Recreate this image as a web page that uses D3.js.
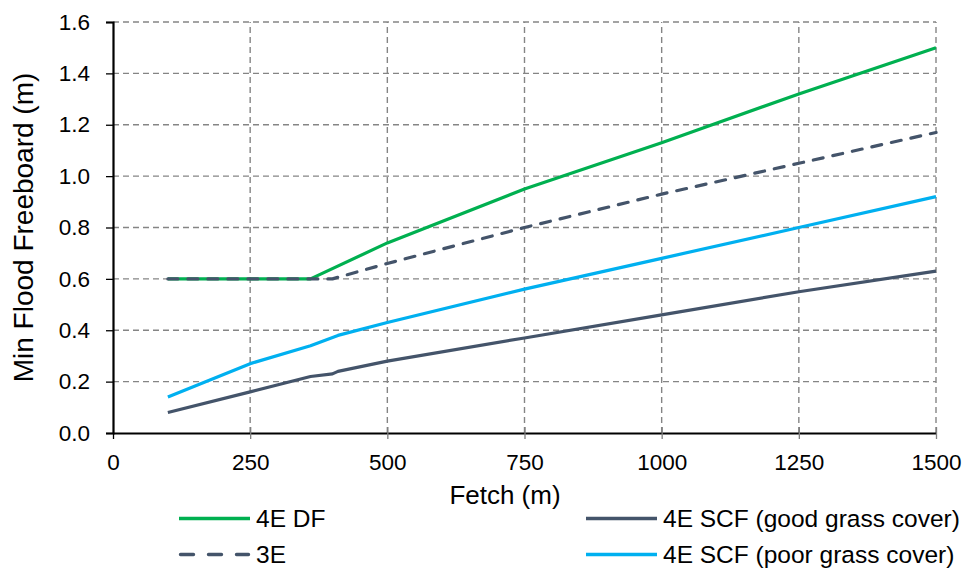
<!DOCTYPE html>
<html>
<head>
<meta charset="utf-8">
<script src="https://cdn.jsdelivr.net/npm/d3@7"></script>
<style>
  html, body { margin: 0; padding: 0; background: #fff; }
  svg { display: block; }
  svg text { font-family: "Liberation Sans", Arial, sans-serif; }
</style>
</head>
<body>
<svg id="chart" width="965" height="569"></svg>
<script>
// Fetch (m) vs minimum flood freeboard (m) for each design condition
const fetchDF = [100, 360, 500, 750, 1000, 1250, 1500];
const freeboardDF = [0.6, 0.6, 0.74, 0.95, 1.13, 1.32, 1.5];

const fetch3E = [100, 400, 500, 750, 1000, 1250, 1500];
const freeboard3E = [0.6, 0.6, 0.66, 0.8, 0.93, 1.05, 1.17];

const fetchGood = [100, 250, 360, 400, 410, 500, 750, 1000, 1250, 1500];
const freeboardGood = [0.08, 0.16, 0.22, 0.23, 0.24, 0.28, 0.37, 0.46, 0.55, 0.63];

const fetchPoor = [100, 250, 360, 410, 500, 750, 1000, 1250, 1500];
const freeboardPoor = [0.14, 0.27, 0.34, 0.38, 0.43, 0.56, 0.68, 0.8, 0.92];

const xTicks = [0, 250, 500, 750, 1000, 1250, 1500];
const yTicks = [0, 0.2, 0.4, 0.6, 0.8, 1.0, 1.2, 1.4, 1.6];

const series = [
  { name: "4E DF", x: fetchDF, y: freeboardDF, color: "#00B050", dash: null },
  { name: "3E", x: fetch3E, y: freeboard3E, color: "#44546A", dash: "10,10" },
  { name: "4E SCF (good grass cover)", x: fetchGood, y: freeboardGood, color: "#44546A", dash: null },
  { name: "4E SCF (poor grass cover)", x: fetchPoor, y: freeboardPoor, color: "#00B0F0", dash: null }
];

const svg = d3.select("#chart");
const m = { left: 113, right: 29, top: 22, bottom: 136 };
const W = 965, H = 569;

const x = d3.scaleLinear().domain([0, 1500]).range([m.left, W - m.right]);
const y = d3.scaleLinear().domain([0, 1.6]).range([H - m.bottom, m.top]);

// grid
const grid = svg.append("g").attr("stroke", "#858585").attr("stroke-width", 1.4)
  .attr("stroke-dasharray", "6,4").attr("fill", "none");
grid.selectAll(".h").data(yTicks.filter(d => d > 0)).join("line")
  .attr("x1", x(0)).attr("x2", x(1500)).attr("y1", d => y(d)).attr("y2", d => y(d));
grid.selectAll(".v").data(xTicks.filter(d => d > 0)).join("line")
  .attr("x1", d => x(d)).attr("x2", d => x(d)).attr("y1", y(0)).attr("y2", y(1.6));

// series lines
const line = d3.line().x(d => x(d[0])).y(d => y(d[1]));
svg.append("g").selectAll("path").data(series).join("path")
  .attr("d", s => line(s.x.map((v, i) => [v, s.y[i]])))
  .attr("fill", "none")
  .attr("stroke", s => s.color)
  .attr("stroke-width", 3.2)
  .attr("stroke-linecap", s => s.dash ? "round" : "butt")
  .attr("stroke-linejoin", "round")
  .attr("stroke-dasharray", s => s.dash);

// axes
const xAxis = svg.append("g").attr("transform", `translate(0,${y(0)})`)
  .call(d3.axisBottom(x).tickValues(xTicks).tickFormat(d3.format("d")).tickSize(0).tickPadding(21));
xAxis.select(".domain").attr("stroke", "#000").attr("stroke-width", 2.2);
xAxis.selectAll(".tick").filter(d => d > 0).append("line")
  .attr("y1", -6).attr("y2", 6).attr("stroke", "#7f7f7f").attr("stroke-width", 1.3);
xAxis.selectAll(".tick").filter(d => d === 0).append("line")
  .attr("y1", 0).attr("y2", 6).attr("stroke", "#000").attr("stroke-width", 1.3);
xAxis.selectAll("text").attr("font-size", 22.5).attr("fill", "#000");

const yAxis = svg.append("g").attr("transform", `translate(${x(0)},0)`)
  .call(d3.axisLeft(y).tickValues(yTicks).tickFormat(d3.format(".1f")).tickSize(7).tickPadding(16));
yAxis.select(".domain").attr("stroke", "#000").attr("stroke-width", 2.2);
yAxis.selectAll(".tick line").attr("stroke", "#000").attr("stroke-width", 1.3);
yAxis.selectAll("text").attr("font-size", 22.5).attr("fill", "#000");

// axis titles
svg.append("text").attr("x", 505).attr("y", 504).attr("text-anchor", "middle")
  .attr("font-size", 26).attr("fill", "#000").text("Fetch (m)");
svg.append("text").attr("transform", `translate(33,${(y(0) + y(1.6)) / 2}) rotate(-90)`)
  .attr("text-anchor", "middle").attr("font-size", 28).attr("fill", "#000")
  .text("Min Flood Freeboard (m)");

// legend
const legendPos = [
  { lx: 179, ly: 518.5 }, { lx: 179, ly: 554.5 }, { lx: 586, ly: 518.5 }, { lx: 586, ly: 554.5 }
];
const lg = svg.append("g").selectAll("g").data(series).join("g")
  .attr("transform", (s, i) => `translate(${legendPos[i].lx},${legendPos[i].ly})`);
lg.append("line")
  .attr("x1", s => s.dash ? 1.5 : 0).attr("x2", s => s.dash ? 69.5 : 71)
  .attr("y1", 0).attr("y2", 0)
  .attr("stroke", s => s.color).attr("stroke-width", 3.4)
  .attr("stroke-linecap", s => s.dash ? "round" : "butt")
  .attr("stroke-dasharray", s => s.dash ? "13,15" : null);
lg.append("text").attr("x", 77).attr("y", 8.5)
  .attr("font-size", 24.5).attr("fill", "#000").text(s => s.name);
</script>
</body>
</html>
